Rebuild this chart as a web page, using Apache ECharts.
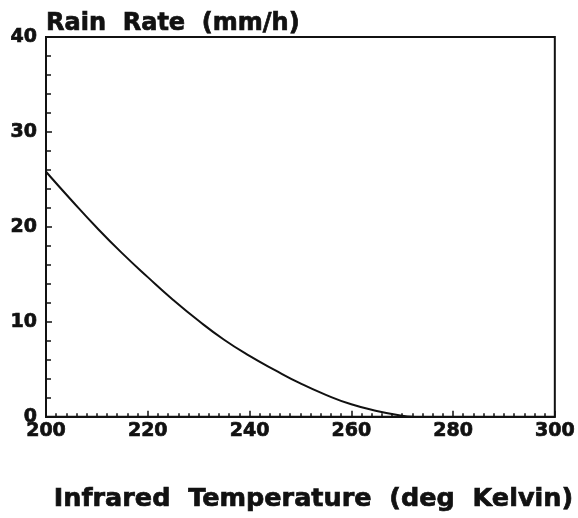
<!DOCTYPE html>
<html>
<head>
<meta charset="utf-8">
<script src="https://cdn.jsdelivr.net/npm/echarts@6/dist/echarts.min.js"></script>
<style>
html,body{margin:0;padding:0;background:#fff;}
#c{width:578px;height:518px;}
</style>
</head>
<body>
<div id="c"></div>
<script>
var temperatures = [200, 205, 210, 215, 220, 225, 230, 235, 240, 245, 250, 255, 260, 265, 270, 272];
var rainRates = [25.8, 22.8, 19.9, 17.2, 14.7, 12.3, 10.1, 8.1, 6.4, 4.9, 3.5, 2.3, 1.3, 0.6, 0.1, 0];
var xTitle = 'Infrared  Temperature  (deg  Kelvin)';
var yTitle = 'Rain  Rate  (mm/h)';

var fontFam = '"DejaVu Sans", sans-serif';
var pts = temperatures.map(function (t, i) { return [t, rainRates[i]]; });

function txt(size) {
  return {fontFamily: fontFam, fontWeight: 'bold', fontSize: size, color: '#111',
          textBorderColor: '#111', textBorderWidth: 0.7};
}

var chart = echarts.init(document.getElementById('c'), null, {renderer: 'canvas'});
var xName = txt(25.5); xName.padding = [0, 0, 0, 26];
var yName = txt(24); yName.align = 'left'; yName.verticalAlign = 'bottom';
var xLab = txt(19); xLab.margin = 5;
var yLab = txt(19); yLab.margin = 9;
chart.setOption({
  animation: false,
  backgroundColor: '#fff',
  grid: {left: 46, right: 23, top: 37, bottom: 95, show: true, borderColor: '#111', borderWidth: 2, backgroundColor: 'transparent'},
  xAxis: {
    type: 'value', min: 200, max: 300, interval: 20,
    name: xTitle, nameLocation: 'middle', nameGap: 70,
    nameTextStyle: xName,
    axisLine: {show: true, lineStyle: {color: '#111', width: 2}},
    axisTick: {show: true, inside: true, length: 6, lineStyle: {color: '#111', width: 1.5}},
    minorTick: {show: true, splitNumber: 10, length: 3.5, lineStyle: {color: '#111', width: 1.5}},
    axisLabel: xLab,
    splitLine: {show: false}
  },
  yAxis: {
    type: 'value', min: 0, max: 40, interval: 10,
    name: yTitle, nameLocation: 'end', nameGap: 1,
    nameTextStyle: yName,
    axisLine: {show: true, lineStyle: {color: '#111', width: 2}},
    axisTick: {show: true, inside: true, length: 6, lineStyle: {color: '#111', width: 1.5}},
    minorTick: {show: true, splitNumber: 5, length: 5, lineStyle: {color: '#111', width: 1.5}},
    axisLabel: yLab,
    splitLine: {show: false}
  },
  series: [{
    type: 'line',
    data: pts,
    smooth: true,
    symbol: 'none',
    lineStyle: {color: '#111', width: 2}
  }]
});
</script>
</body>
</html>
